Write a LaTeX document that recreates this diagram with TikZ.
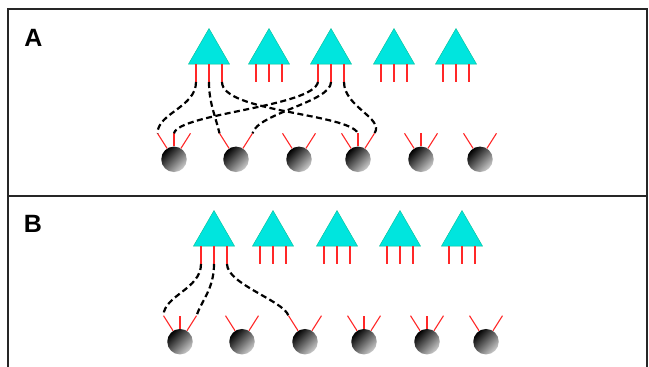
\documentclass[tikz,border=0pt]{standalone}
\usepackage{fontspec}
\setmainfont{Liberation Sans}
\usetikzlibrary{shapes.geometric}
\definecolor{cellcyan}{RGB}{0,229,222}
\definecolor{celledge}{RGB}{0,190,150}
\definecolor{spine}{RGB}{255,40,40}
\begin{document}
\begin{tikzpicture}[x=1pt,y=-1pt,
  cell/.style={regular polygon,regular polygon sides=3,minimum size=47.5pt,inner sep=0pt,
    fill=cellcyan,draw=celledge,line width=0.4pt},
  ball/.style={circle,minimum size=25.5pt,inner sep=0pt,shading=axis,top color=black,
    middle color=black!88,bottom color=gray!40,shading angle=45},
  leg/.style={spine,line width=2pt},
  dend/.style={spine,line width=1.1pt},
  wire/.style={black,line width=2.2pt,dash pattern=on 6pt off 3.5pt},
  panel/.style={font=\fontsize{25}{30}\selectfont\bfseries}]
\useasboundingbox (0,0) rectangle (649,367);
% frame
\draw[black!85,line width=1.2pt] (8,367) -- (8,9) -- (647,9) -- (647,367);
\draw[black!85,line width=1.2pt] (8,196) -- (647,196);
\node[panel] (labA) at (33.5,38) {A};
\node[panel] (labB) at (33,224) {B};
% triangles with their legs
\foreach \p/\y/\xs in {A/52.25/{209,269,331,394,456},B/234.25/{214,273,337,400,462}} {
  \foreach \x [count=\i] in \xs {
    \node[cell] (t\p\i) at (\x,\y) {};
    \foreach \k/\dx in {l/-13,m/0,r/13}
      \draw[leg] ([xshift=\dx pt,yshift=-11.75pt]t\p\i.center) -- ++(0,18) coordinate (t\p\i-\k);
  }
}
% balls with their spines
\foreach \p/\y/\xs in {A/159.3/{174,236,299,358,421,480},B/341.7/{180,242,305,364,427,486}} {
  \foreach \x [count=\i] in \xs {
    \node[ball] (b\p\i) at (\x,\y) {};
    \coordinate (b\p\i-l) at (\x-16.5,\y-26);
    \coordinate (b\p\i-r) at (\x+16.5,\y-26);
    \draw[dend] (b\p\i) -- (b\p\i-l);
    \draw[dend] (b\p\i) -- (b\p\i-r);
  }
}
\foreach \p in {A,B}
  \foreach \i in {1,4,5} {
    \path (b\p\i) ++(0,-26) coordinate (b\p\i-m);
    \draw[dend] (b\p\i) -- (b\p\i-m);
  }
% connections, panel A
\draw[wire] (tA1-l) .. controls +(0,25) and +(0,-20) .. (bA1-l);
\draw[wire] (tA1-m) .. controls +(0,20) and +(-5,-20) .. (bA2-l);
\draw[wire] (tA1-r) .. controls +(0,30) and +(-10,-20) .. (bA4-m);
\draw[wire] (tA3-l) .. controls +(-5,25) and +(5,-20) .. (bA1-m);
\draw[wire] (tA3-m) .. controls +(0,20) and +(5,-20) .. (bA2-r);
\draw[wire] (tA3-r) .. controls +(0,25) and +(10,-15) .. (bA4-r);
% connections, panel B
\draw[wire] (tB1-l) .. controls +(0,25) and +(0,-20) .. (bB1-l);
\draw[wire] (tB1-m) .. controls +(0,25) and +(5,-15) .. (bB1-r);
\draw[wire] (tB1-r) .. controls +(0,20) and +(-5,-15) .. (bB3-l);
\end{tikzpicture}
\end{document}
